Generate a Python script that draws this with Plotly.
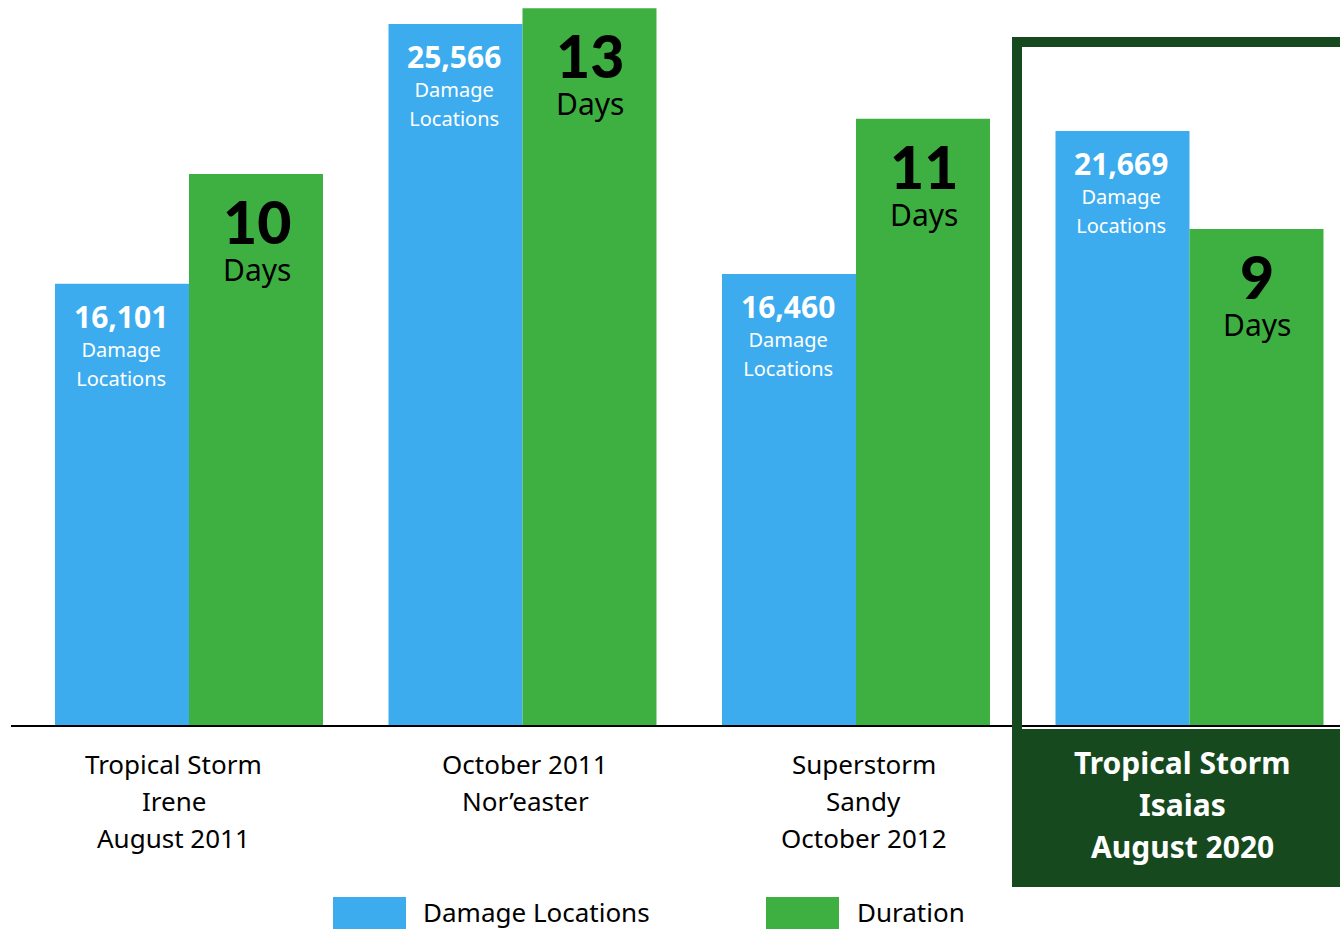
import plotly.graph_objects as go

# ---- data ----
storms = ["Tropical Storm<br>Irene<br>August 2011",
          "October 2011<br>Nor’easter",
          "Superstorm<br>Sandy<br>October 2012",
          "Tropical Storm<br>Isaias<br>August 2020"]
damage_locations = [16101, 25566, 16460, 21669]
duration_days = [10, 13, 11, 9]
series_names = ["Damage Locations", "Duration"]

BLUE = "#3CACEF"
GREEN = "#3EB042"
DARK = "#17491F"

W, H = 1340, 929
BOTTOM = 203
PLOT_H = H - BOTTOM

fig = go.Figure()
bw = 0.4018
fig.add_trace(go.Bar(x=storms, y=damage_locations, name=series_names[0],
                     marker=dict(color=BLUE, line=dict(width=0)),
                     width=bw, offset=-bw, yaxis="y", showlegend=False,
                     hoverinfo="x+y"))
fig.add_trace(go.Bar(x=storms, y=duration_days, name=series_names[1],
                     marker=dict(color=GREEN, line=dict(width=0)),
                     width=bw, offset=0, yaxis="y2", showlegend=False,
                     hoverinfo="x+y"))

ann = []
half = 67
for s, v in zip(storms, damage_locations):
    txt = (f"<span style='font-size:30px;font-weight:bold'>{v:,}</span><br>"
           "<span style='font-size:20px'>Damage</span><br>"
           "<span style='font-size:20px'>Locations</span>")
    ann.append(dict(x=s, y=v, xref="x", yref="y", xshift=-half - 1, yshift=-10,
                    text=txt, showarrow=False, yanchor="top",
                    font=dict(family="Noto Sans", size=22.3, color="white")))
for s, v in zip(storms, duration_days):
    txt = (f"<span style='font-family:Lato;font-size:59px;font-weight:900'>{v}</span><br>"
           "<span style='font-size:30px'>Days</span>")
    ann.append(dict(x=s, y=v, xref="x", yref="y2", xshift=half + 1, yshift=-10,
                    text=txt, showarrow=False, yanchor="top",
                    font=dict(family="Noto Sans", size=28.5, color="black")))

# category labels
for i, s in enumerate(storms):
    lines = s.split("<br>")
    last = i == len(storms) - 1
    for j, ln in enumerate(lines):
        if last:
            py = 762 + 42 * j
            ann.append(dict(x=s, y=0, xref="x", yref="paper", yshift=-(py - PLOT_H),
                            xshift=-7, text=f"<b>{ln}</b>", showarrow=False, yanchor="middle",
                            font=dict(family="Noto Sans", size=30, color="white")))
        else:
            py = 764 + 37 * j
            ann.append(dict(x=s, y=0, xref="x", yref="paper", yshift=-(py - PLOT_H),
                            xshift=-15 if i == 0 else (3 if i == 1 else 8),
                            text=ln, showarrow=False, yanchor="middle",
                            font=dict(family="Noto Sans", size=26, color="black")))

def py2paper(py):
    return (PLOT_H - py) / PLOT_H

# legend
ann.append(dict(x=421 / W, y=py2paper(912), xref="paper", yref="paper", xanchor="left",
                yanchor="middle", text=series_names[0], showarrow=False,
                font=dict(family="Noto Sans", size=26, color="black")))
ann.append(dict(x=855 / W, y=py2paper(912), xref="paper", yref="paper", xanchor="left",
                yanchor="middle", text=series_names[1], showarrow=False,
                font=dict(family="Noto Sans", size=26, color="black")))

shapes = [
    # baseline
    dict(type="line", xref="paper", yref="paper", x0=11 / W, x1=1.0,
         y0=py2paper(726), y1=py2paper(726), line=dict(color="black", width=2), layer="above"),
    # highlight box fill
    dict(type="rect", xref="paper", yref="paper", x0=1012 / W, x1=1.02,
         y0=py2paper(887), y1=py2paper(729), fillcolor=DARK, line=dict(width=0)),
    # highlight box outline
    dict(type="rect", xref="paper", yref="paper", x0=1017 / W, x1=1.05,
         y0=py2paper(882), y1=py2paper(42), fillcolor="rgba(0,0,0,0)",
         line=dict(color=DARK, width=10)),
    # legend swatches
    dict(type="rect", xref="paper", yref="paper", x0=333 / W, x1=406 / W,
         y0=py2paper(940), y1=py2paper(897), fillcolor=BLUE, line=dict(width=0)),
    dict(type="rect", xref="paper", yref="paper", x0=766 / W, x1=839 / W,
         y0=py2paper(940), y1=py2paper(897), fillcolor=GREEN, line=dict(width=0)),
]

fig.update_layout(
    width=W, height=H,
    margin=dict(l=0, r=0, t=0, b=BOTTOM, pad=0),
    paper_bgcolor="white", plot_bgcolor="white",
    barmode="overlay",
    xaxis=dict(range=[-0.5667, 3.4513], showticklabels=False, showgrid=False,
               zeroline=False, showline=False, ticks=""),
    yaxis=dict(range=[0, 26438], visible=False, showgrid=False, zeroline=False),
    yaxis2=dict(range=[0, 13.15], overlaying="y", visible=False, showgrid=False,
                zeroline=False),
    annotations=ann,
    shapes=shapes,
    showlegend=False,
)

fig.write_html("out.html",
               config={"displayModeBar": False},
               post_script="document.body.style.margin='0';document.body.style.overflow='hidden';")
